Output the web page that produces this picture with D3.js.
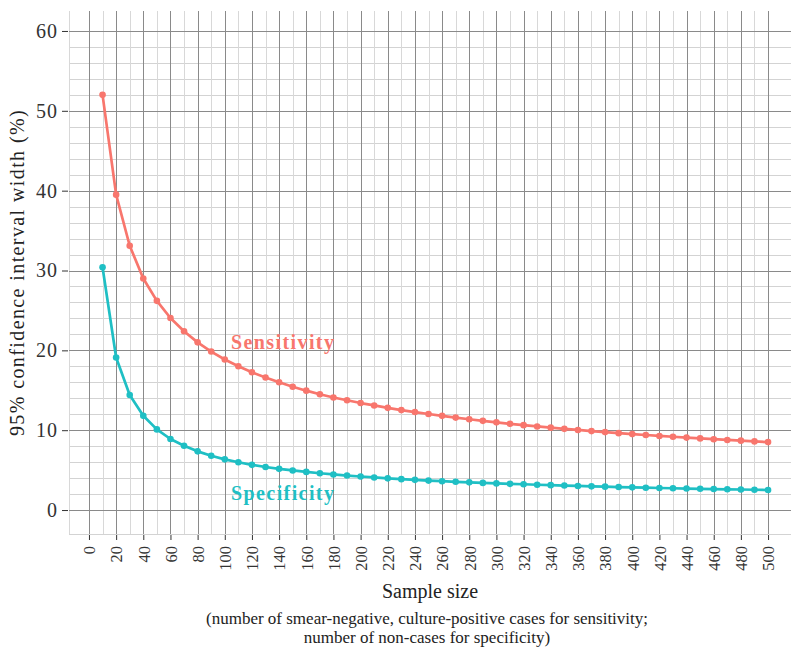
<!DOCTYPE html>
<html>
<head>
<meta charset="utf-8">
<script src="https://cdn.jsdelivr.net/npm/d3@7"></script>
<style>
html, body { margin: 0; padding: 0; background: #fff; }
svg { display: block; }
</style>
</head>
<body>
<svg id="chart" width="791" height="648" font-family="Liberation Serif"></svg>
<script>
const sampleSizes = d3.range(10, 501, 10);
const sensitivity = [52.0, 39.5, 33.1, 29.0, 26.2, 24.05, 22.4, 21.0, 19.85, 18.85,
  18.0, 17.25, 16.6, 16.0, 15.45, 14.95, 14.5, 14.1, 13.75, 13.4,
  13.1, 12.8, 12.52, 12.27, 12.03, 11.8, 11.58, 11.37, 11.17, 10.98,
  10.8, 10.63, 10.47, 10.32, 10.17, 10.03, 9.89, 9.76, 9.63, 9.51,
  9.4, 9.28, 9.18, 9.07, 8.97, 8.87, 8.78, 8.69, 8.6, 8.51];
const specificity = [30.4, 19.1, 14.4, 11.8, 10.1, 8.9, 8.05, 7.35, 6.8, 6.35,
  5.98, 5.66, 5.39, 5.16, 4.96, 4.78, 4.61, 4.46, 4.32, 4.2,
  4.08, 3.97, 3.87, 3.78, 3.69, 3.61, 3.54, 3.47, 3.4, 3.34,
  3.28, 3.23, 3.17, 3.12, 3.07, 3.02, 2.97, 2.93, 2.88, 2.84,
  2.8, 2.76, 2.73, 2.69, 2.66, 2.63, 2.6, 2.57, 2.54, 2.51];
const seriesNames = ["Sensitivity", "Specificity"];
const seriesColors = ["#F8766D", "#1FBFC4"];
const labelPositions = [[143, 21.0], [143, 2.15]];
const xTicks = d3.range(0, 501, 20);
const xMinor = d3.range(10, 500, 20).concat([-14.7]);
const yTicks = d3.range(0, 61, 10);
const yMinor = d3.range(2, 60, 2).filter(v => v % 10 !== 0).concat([-3]);
const xTitle = "Sample size";
const xSubtitle = ["(number of smear-negative, culture-positive cases for sensitivity;",
                   "number of non-cases for specificity)"];
const yTitle = "95% confidence interval width (%)";

const FONT = "Liberation Serif";
const svg = d3.select("#chart");
const panel = {left: 69, right: 791, top: 11, bottom: 534};
const x = d3.scaleLinear().domain([-14.7, 516.9]).range([panel.left, panel.right]);
const y = d3.scaleLinear().domain([-3, 62.5]).range([panel.bottom, panel.top]);

const grid = svg.append("g");
grid.selectAll(".hmin").data(yMinor).join("line")
  .attr("x1", panel.left).attr("x2", panel.right)
  .attr("y1", d => Math.round(y(d)) + 0.5).attr("y2", d => Math.round(y(d)) + 0.5)
  .attr("stroke", "#d3d3d3").attr("stroke-width", 1);
grid.selectAll(".vmin").data(xMinor).join("line")
  .attr("y1", panel.top).attr("y2", panel.bottom)
  .attr("x1", d => Math.round(x(d)) + 0.5).attr("x2", d => Math.round(x(d)) + 0.5)
  .attr("stroke", "#d8d8d8").attr("stroke-width", 1);
grid.selectAll(".hmaj").data(yTicks).join("line")
  .attr("x1", panel.left).attr("x2", panel.right)
  .attr("y1", d => Math.round(y(d)) + 0.5).attr("y2", d => Math.round(y(d)) + 0.5)
  .attr("stroke", "#8a8a8a").attr("stroke-width", 1);
grid.selectAll(".vmaj").data(xTicks).join("line")
  .attr("y1", panel.top).attr("y2", panel.bottom)
  .attr("x1", d => Math.round(x(d)) + 0.5).attr("x2", d => Math.round(x(d)) + 0.5)
  .attr("stroke", "#8a8a8a").attr("stroke-width", 1);

const yAxis = svg.append("g").attr("transform", `translate(${panel.left - 1},0)`)
  .call(d3.axisLeft(y).tickValues(yTicks).tickSize(6).tickPadding(4));
yAxis.attr("font-family", FONT);
yAxis.select(".domain").remove();
yAxis.selectAll(".tick line").attr("stroke", "#333");
yAxis.selectAll(".tick text").attr("font-size", 20).attr("fill", "#333")
  .attr("letter-spacing", 1).attr("font-family", FONT);

const xAxis = svg.append("g").attr("transform", `translate(0,${panel.bottom + 1})`)
  .call(d3.axisBottom(x).tickValues(xTicks).tickSize(5).tickPadding(4));
xAxis.attr("font-family", FONT);
xAxis.select(".domain").remove();
xAxis.selectAll(".tick line").attr("stroke", "#333");
xAxis.selectAll(".tick text").attr("font-size", 16.5).attr("fill", "#333")
  .attr("font-family", FONT)
  .attr("transform", "rotate(-90)")
  .attr("text-anchor", "end")
  .attr("x", -11).attr("y", 0).attr("dy", "0.35em");

const seriesData = [sensitivity, specificity];
const line = d3.line().x((d, i) => x(sampleSizes[i])).y(d => y(d));
seriesData.forEach((vals, k) => {
  svg.append("path").datum(vals).attr("d", line)
    .attr("fill", "none").attr("stroke", seriesColors[k]).attr("stroke-width", 2.7)
    .attr("stroke-linejoin", "round");
  svg.append("g").selectAll("circle").data(vals).join("circle")
    .attr("cx", (d, i) => x(sampleSizes[i])).attr("cy", d => y(d))
    .attr("r", 3.3).attr("fill", seriesColors[k]);
  svg.append("text")
    .attr("x", x(labelPositions[k][0])).attr("y", y(labelPositions[k][1]))
    .attr("text-anchor", "middle").attr("dy", "0.35em")
    .attr("font-size", 20).attr("font-weight", "bold").attr("letter-spacing", 1.4)
    .attr("font-family", FONT)
    .attr("fill", seriesColors[k]).text(seriesNames[k]);
});

const cx = (panel.left + panel.right) / 2;
svg.append("text").attr("x", cx).attr("y", 598).attr("text-anchor", "middle")
  .attr("font-family", FONT)
  .attr("font-size", 20).attr("fill", "#222").text(xTitle);
xSubtitle.forEach((t, i) => {
  svg.append("text").attr("x", cx - 3).attr("y", 624 + i * 19).attr("text-anchor", "middle")
    .attr("font-family", FONT)
    .attr("font-size", 17).attr("fill", "#222").text(t);
});
svg.append("text")
  .attr("transform", `translate(24,${(panel.top + panel.bottom) / 2}) rotate(-90)`)
  .attr("font-family", FONT).attr("letter-spacing", 1.4)
  .attr("text-anchor", "middle").attr("font-size", 20).attr("fill", "#222").text(yTitle);
</script>
</body>
</html>
